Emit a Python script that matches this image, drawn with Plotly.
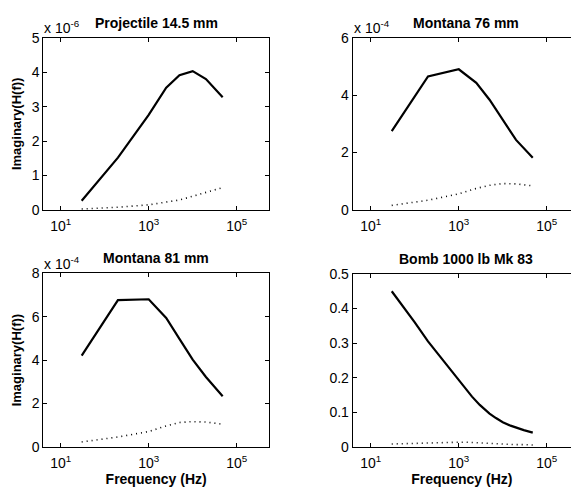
import plotly.graph_objects as go

# Frequency grid for the three ordnance curves with straight segments (Hz)
freq_hz = [30, 200, 1000, 2500, 5000, 10000, 20000, 48000]
# Denser grid for the smooth bomb curve (Hz)
bomb_freq_hz = [30, 50, 100, 200, 500, 1000, 1500, 2000, 3000, 4000, 5000,
                7000, 10000, 15000, 20000, 30000, 48000]

# Imaginary part of H(f); values in the units shown on each axis
proj_upper = [0.27, 1.52, 2.76, 3.55, 3.91, 4.03, 3.80, 3.27]      # x 1e-6
proj_lower = [0.03, 0.08, 0.15, 0.22, 0.29, 0.40, 0.51, 0.65]      # x 1e-6
m76_upper = [2.75, 4.65, 4.90, 4.43, 3.84, 3.13, 2.44, 1.82]       # x 1e-4
m76_lower = [0.16, 0.34, 0.56, 0.75, 0.86, 0.92, 0.91, 0.84]       # x 1e-4
m81_upper = [4.21, 6.77, 6.81, 5.95, 4.98, 4.02, 3.22, 2.33]       # x 1e-4
m81_lower = [0.22, 0.45, 0.70, 0.96, 1.12, 1.16, 1.14, 1.04]       # x 1e-4
bomb_upper = [0.450, 0.412, 0.360, 0.305, 0.240, 0.193, 0.163, 0.145, 0.121,
              0.106, 0.096, 0.083, 0.071, 0.061, 0.055, 0.048, 0.041]
bomb_lower = [0.008, 0.009, 0.010, 0.011, 0.012, 0.013, 0.013, 0.012, 0.012,
              0.011, 0.010, 0.009, 0.008, 0.007, 0.006, 0.006, 0.005]

titles = ["Projectile 14.5 mm", "Montana 76 mm", "Montana 81 mm", "Bomb 1000 lb Mk 83"]
multipliers = ["x 10<sup>-6</sup>", "x 10<sup>-4</sup>", "x 10<sup>-4</sup>", ""]
y_max = [5, 6, 8, 0.5]
y_step = [1, 2, 2, 0.1]
x_tickvals = [10, 1000, 100000]
x_ticktext = ["10<sup>1</sup>", "10<sup>3</sup>", "10<sup>5</sup>"]
y_title = "Imaginary(H(f))"
x_title = "Frequency (Hz)"

W, H = 571, 498
FONT = "Liberation Sans, Arial, sans-serif"


def px_x(v):
    return v / W


def px_y(v):
    return 1 - v / H


# panel boxes in pixels: left, right, top, bottom
boxes = [
    (43.3, 269.0, 30.7, 208.7),
    (352.7, 571.0, 30.7, 208.7),
    (43.3, 269.0, 274.3, 453.3),
    (352.7, 571.0, 274.8, 453.3),
]
x_ranges = [[0.605, 5.734], [0.59, 5.55], [0.605, 5.734], [0.59, 5.55]]

series = [
    (freq_hz, proj_upper, proj_lower),
    (freq_hz, m76_upper, m76_lower),
    (freq_hz, m81_upper, m81_lower),
    (bomb_freq_hz, bomb_upper, bomb_lower),
]

fig = go.Figure()
layout = dict(
    width=W, height=H,
    margin=dict(l=0, r=0, t=0, b=0),
    paper_bgcolor="white", plot_bgcolor="white",
    showlegend=False,
    font=dict(family=FONT, size=14, color="black"),
)
annotations = []

for i, (freqs, upper, lower) in enumerate(series):
    n = i + 1
    xa = "xaxis" if n == 1 else f"xaxis{n}"
    ya = "yaxis" if n == 1 else f"yaxis{n}"
    xref = "x" if n == 1 else f"x{n}"
    yref = "y" if n == 1 else f"y{n}"
    left, right, top, bottom = boxes[i]
    right_col = i % 2 == 1

    fig.add_trace(go.Scatter(x=freqs, y=upper, mode="lines",
                             line=dict(color="black", width=2.2),
                             xaxis=xref, yaxis=yref))
    fig.add_trace(go.Scatter(x=freqs, y=lower, mode="lines",
                             line=dict(color="black", width=1.6, dash="1px,4px"),
                             xaxis=xref, yaxis=yref))

    layout[xa] = dict(
        domain=[px_x(left), px_x(right)], anchor=yref, type="log",
        range=x_ranges[i], tickvals=x_tickvals, ticktext=x_ticktext,
        ticks="inside", ticklen=4, tickcolor="black",
        showline=True, linecolor="black", linewidth=1, mirror="ticks",
        showgrid=False, zeroline=False,
        tickfont=dict(size=14), ticklabelstandoff=3,
    )
    layout[ya] = dict(
        domain=[px_y(bottom), px_y(top)], anchor=xref,
        range=[0, y_max[i]], dtick=y_step[i], tick0=0,
        ticks="inside", ticklen=4, tickcolor="black",
        showline=True, linecolor="black", linewidth=1,
        mirror=False if right_col else "ticks",
        showgrid=False, zeroline=False,
        tickfont=dict(size=14),
    )
    if i >= 2:
        layout[xa]["title"] = dict(text=f"<b>{x_title}</b>", font=dict(size=14), standoff=2)
    if not right_col:
        layout[ya]["title"] = dict(text=f"<b>{y_title}</b>", font=dict(size=13), standoff=7)

    # panel title
    annotations.append(dict(
        text=f"<b>{titles[i]}</b>", xref="paper", yref="paper",
        x=px_x(left + 225.7 / 2), y=px_y(top - 15.5),
        xanchor="center", yanchor="middle", showarrow=False,
        font=dict(size=14),
    ))
    if multipliers[i]:
        annotations.append(dict(
            text=multipliers[i], xref="paper", yref="paper",
            x=px_x(left - 1), y=px_y(top + 0.5),
            xanchor="left", yanchor="bottom", showarrow=False,
            font=dict(size=14),
        ))

layout["annotations"] = annotations
fig.update_layout(**layout)
fig.write_html("out.html")
